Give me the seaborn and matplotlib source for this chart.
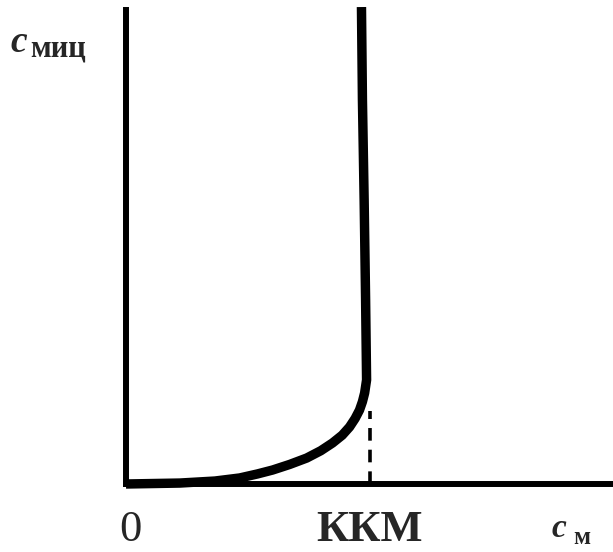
import matplotlib
matplotlib.use("Agg")
import matplotlib.pyplot as plt
import seaborn as sns
import pandas as pd

# Data (arbitrary units; KKM = 1.0)
c_m = [0.0, 0.221, 0.365, 0.467, 0.540, 0.602, 0.672, 0.742, 0.800, 0.848, 0.888,
       0.918, 0.941, 0.959, 0.971, 0.980, 0.988, 0.984, 0.978, 0.971, 0.967]
c_mic = [0.0, 0.008, 0.025, 0.051, 0.085, 0.118, 0.165, 0.219, 0.281, 0.346, 0.412,
         0.481, 0.553, 0.624, 0.695, 0.768, 0.878, 1.553, 2.397, 3.241, 4.025]
kkm_x = 1.0
kkm_y = 0.62
x_ticklabels = ["0", "ККМ"]

sns.set_theme(style="white")
plt.rcParams["font.family"] = ["Liberation Serif", "DejaVu Serif"]

W, H = 613, 552
fig = plt.figure(figsize=(W / 100, H / 100), dpi=100)
ax = fig.add_axes([126 / W, (H - 484) / H, 1 - 126 / W, 474 / H])

df = pd.DataFrame({"c_m": c_m, "c_mic": c_mic})
sns.lineplot(data=df, x="c_m", y="c_mic", sort=False, estimator=None, color="black",
             linewidth=6.8, ax=ax, solid_capstyle="butt", solid_joinstyle="round")
for ln in ax.lines:
    ln.set_clip_on(False)
ax.vlines(kkm_x, 0, kkm_y, colors="black", linestyles=(0, (3.5, 2.5)), linewidth=2.6)

ax.set_xlim(0, 2.0)
ax.set_ylim(0, 4.0)
ax.set_xticks([])
ax.set_yticks([])
ax.set_xlabel("")
ax.set_ylabel("")
for s in ["top", "right"]:
    ax.spines[s].set_visible(False)
for s in ["left", "bottom"]:
    ax.spines[s].set_color("black")
    ax.spines[s].set_linewidth(4.3)
    ax.spines[s].set_capstyle("projecting")

# labels under the axis at 0 and at KKM
base_y = 1 - 541 / H
fig.text(130 / W, base_y, x_ticklabels[0], ha="center", va="baseline", fontsize=32)
xkkm_fig = fig.transFigure.inverted().transform(ax.transData.transform((kkm_x, 0)))[0]
fig.text(xkkm_fig, base_y, x_ticklabels[1], ha="center", va="baseline",
         fontsize=32, fontweight="bold")

# axis labels
fig.text(10 / W, 1 - 52 / H, "c", fontsize=27, fontstyle="italic", fontweight="bold",
         ha="left", va="baseline")
fig.text(30 / W, 1 - 57 / H, "миц", fontsize=22, fontweight="bold",
         ha="left", va="baseline")
fig.text(552 / W, 1 - 537 / H, "c", fontsize=24, fontstyle="italic", fontweight="bold",
         ha="left", va="baseline")
fig.text(573 / W, 1 - 544 / H, "м", fontsize=18, fontweight="bold",
         ha="left", va="baseline")

fig.savefig("out.png", dpi=100)
